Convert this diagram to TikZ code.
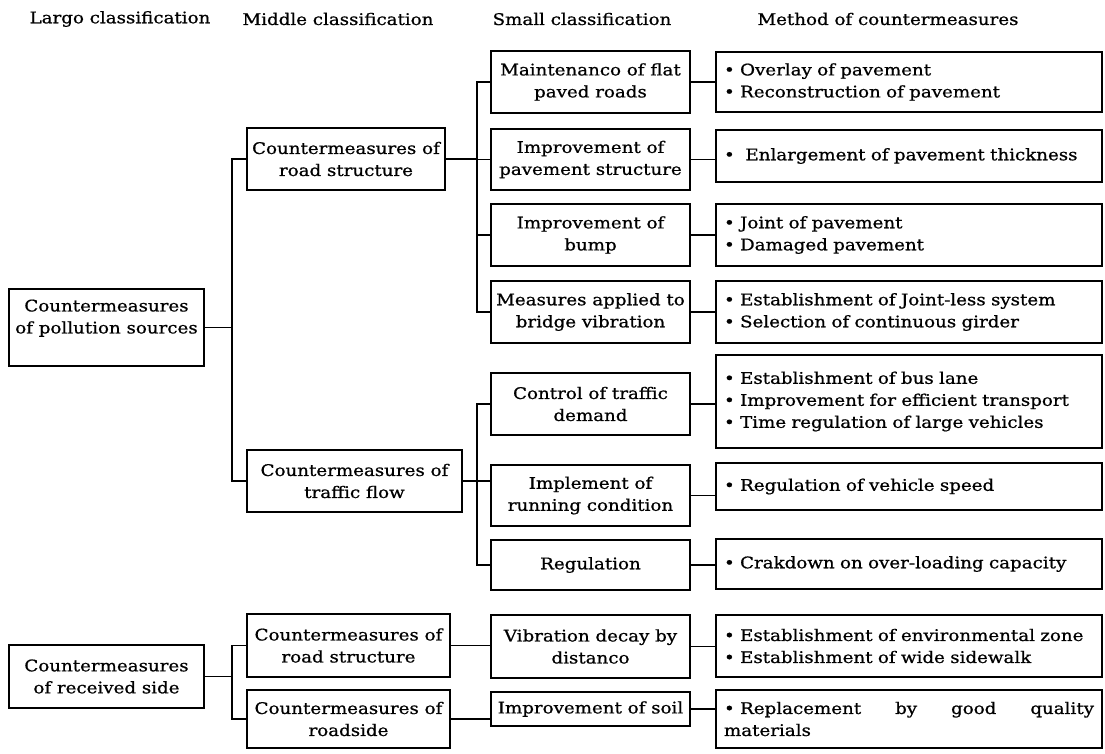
\documentclass[tikz,border=0pt]{standalone}
\usepackage{fontspec}
\setmainfont{DejaVu Serif}[FakeStretch=1.14,FakeBold=0.8]
\newcommand{\diagfont}{\fontsize{16}{22}\selectfont}
\begin{document}
\begin{tikzpicture}[x=1pt,y=-1pt,
  box/.style={draw,line width=1.8pt,inner sep=0pt,align=center,font=\diagfont},
  lbox/.style={box,minimum width=195pt},
  sbox/.style={box,minimum width=199pt},
  tbox/.style={box,align=left,text width=370pt,inner xsep=8pt,inner ysep=0pt},
  head/.style={font=\diagfont,inner sep=0pt},
  link/.style={line width=1.6pt}]
\useasboundingbox (0,0) rectangle (1105,753);

% column headings
\node[head] (h1) at (120,19) {Largo classification};
\node[head] (h2) at (338,19) {Middle classification};
\node[head] (h3) at (582,19) {Small classification};
\node[head] (h4) at (888,19) {Method of countermeasures};

% large classification
\node[lbox,minimum height=77pt] (L1) at (106.5,327.5) {Countermeasures\\of pollution sources\\~};
\node[lbox,minimum height=63pt] (L2) at (106.5,676.5) {Countermeasures\\of received side};

% middle classification
\node[box,minimum width=198pt,minimum height=62pt] (M1) at (346,159) {Countermeasures of\\road structure};
\node[box,minimum width=215pt,minimum height=62pt] (M2) at (354.5,481) {Countermeasures of\\traffic flow};
\node[box,minimum width=203pt,minimum height=63pt] (M3) at (348.5,645.5) {Countermeasures of\\road structure};
\node[box,minimum width=203pt,minimum height=58pt] (M4) at (348.5,719) {Countermeasures of\\roadside};

% small classification
\node[sbox,minimum height=62pt] (S1) at (590.5,82) {Maintenanco of flat\\paved roads};
\node[sbox,minimum height=61pt] (S2) at (590.5,159.5) {Improvement of\\pavement structure};
\node[sbox,minimum height=62pt] (S3) at (590.5,235) {Improvement of\\bump};
\node[sbox,minimum height=62pt] (S4) at (590.5,312) {Measures applied to\\bridge vibration};
\node[sbox,minimum height=62pt] (S5) at (590.5,404) {Control of traffic\\demand};
\node[sbox,minimum height=61pt] (S6) at (590.5,495.5) {Implement of\\running condition};
\node[sbox,minimum height=50pt] (S7) at (590.5,565) {Regulation};
\node[sbox,minimum height=63pt] (S8) at (590.5,646.5) {Vibration decay by\\distanco};
\node[sbox,minimum height=34pt] (S9) at (590.5,709) {Improvement of soil};

% methods of countermeasures
\node[tbox,minimum height=60pt] (T1) at (909,82) {• Overlay of pavement\\• Reconstruction of pavement};
\node[tbox,minimum height=52pt] (T2) at (909,156) {•\ \ Enlargement of pavement thickness};
\node[tbox,minimum height=62pt] (T3) at (909,235) {• Joint of pavement\\• Damaged pavement};
\node[tbox,minimum height=62pt] (T4) at (909,312) {• Establishment of Joint-less system\\• Selection of continuous girder};
\node[tbox,minimum height=93pt] (T5) at (909,401.5) {• Establishment of bus lane\\• Improvement for efficient transport\\• Time regulation of large vehicles};
\node[tbox,minimum height=47pt] (T6) at (909,486.5) {• Regulation of vehicle speed};
\node[tbox,minimum height=50pt] (T7) at (909,564) {• Crakdown on over-loading capacity};
\node[tbox,minimum height=62pt] (T8) at (909,646) {• Establishment of environmental zone\\• Establishment of wide sidewalk};
\node[tbox,minimum height=58pt] (T9) at (909,719) {\leavevmode\hbox to 370pt{• Replacement\hfill by\hfill good\hfill quality}\\materials};

% trunk lines
\coordinate (t1) at (232,0);
\coordinate (t2) at (477,0);

% large -> middle
\draw[link] (L1.east) -- (L1.east -| t1);
\draw[link] (M1.west) -| (t1 |- M2.west) -- (M2.west);
\draw[link] (L2.east) -- (L2.east -| t1);
\draw[link] (M3.west) -| (t1 |- M4.west) -- (M4.west);

% middle -> small
\draw[link] (M1.east) -- (M1.east -| t2);
\draw[link] (S1.west) -| (t2 |- S4.west) -- (S4.west);
\draw[link] (S2.west) -- (S2.west -| t2);
\draw[link] (S3.west) -- (S3.west -| t2);
\draw[link] (M2.east) -- (S6.west |- M2.east);
\draw[link] (S5.west) -| (t2 |- S7.west) -- (S7.west);
\draw[link] (M3.east) -- (S8.west |- M3.east);
\draw[link] (M4.east) -- (S9.west |- M4.east);

% small -> methods
\foreach \i in {1,...,9} {
  \draw[link] (S\i.east) -- (T\i.west |- S\i.east);
}
\end{tikzpicture}
\end{document}
